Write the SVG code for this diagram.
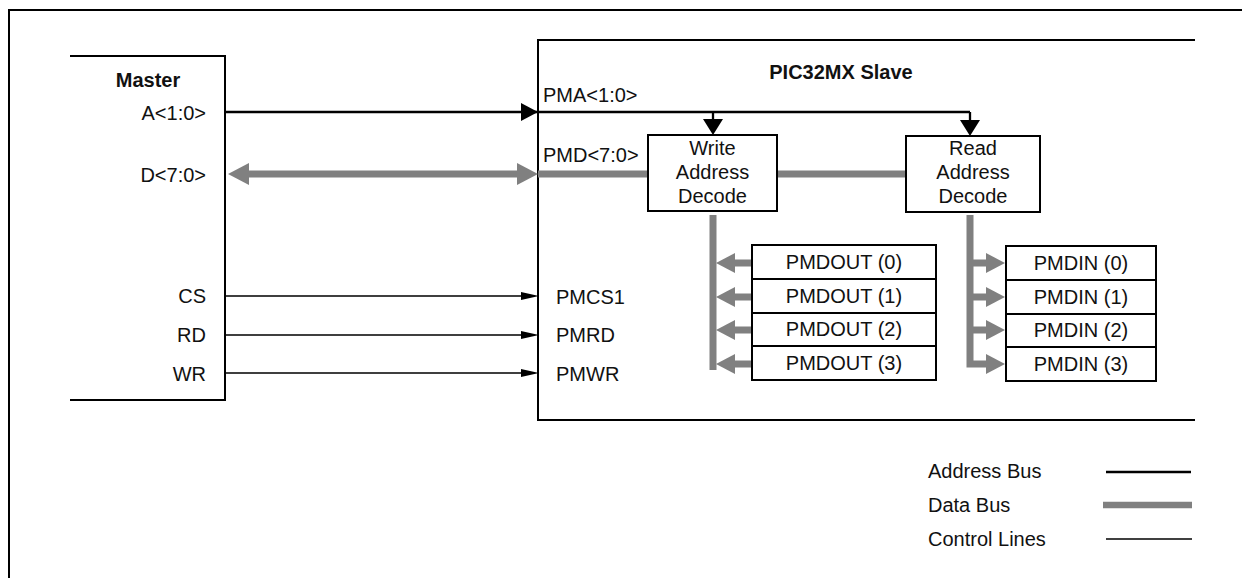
<svg xmlns="http://www.w3.org/2000/svg" width="1242" height="578" viewBox="0 0 1242 578">
<style>
text{font-family:"Liberation Sans",Arial,sans-serif;font-size:20px;fill:#111}
.b{font-weight:bold}
.m{text-anchor:middle}
.e{text-anchor:end}
.box{fill:#fff;stroke:#000;stroke-width:2}
.frame{fill:none;stroke:#000;stroke-width:2}
.addr{stroke:#000;stroke-width:2.3;fill:none}
.ctl{stroke:#000;stroke-width:1.6;fill:none}
.data{stroke:#808080;stroke-width:7;fill:none}
.gh{fill:#808080}
.bh{fill:#000}
</style>
<rect width="1242" height="578" fill="#fff"/>
<g id="frame">
<path class="frame" d="M9,578 V10 H1242"/>
</g>
<g id="master">
<path class="frame" d="M70,56 H225 V400 H70"/>
<text class="b m" x="148" y="87">Master</text>
<text class="e" x="206" y="120">A&lt;1:0&gt;</text>
<text class="e" x="206" y="182">D&lt;7:0&gt;</text>
<text class="e" x="206" y="303">CS</text>
<text class="e" x="206" y="342">RD</text>
<text class="e" x="206" y="381">WR</text>
</g>
<g id="slave">
<path class="frame" d="M1195,40 H538 V420 H1195"/>
<text class="b m" x="841" y="79">PIC32MX Slave</text>
<text x="543" y="102">PMA&lt;1:0&gt;</text>
<text x="543" y="162">PMD&lt;7:0&gt;</text>
<text x="556" y="304">PMCS1</text>
<text x="556" y="342">PMRD</text>
<text x="556" y="381">PMWR</text>
</g>
<g id="connectors">
<path class="addr" d="M225,112 H970 M713,112 V122 M970,112 V122"/>
<polygon class="bh" points="538,112 521,103 521,121"/>
<polygon class="bh" points="713,135 703,119 723,119"/>
<polygon class="bh" points="970,136 960,120 980,120"/>
<path class="data" d="M246,174 H520 M538,174 H648 M777,174 H906"/>
<polygon class="gh" points="228,174 249,163 249,185"/>
<polygon class="gh" points="538,174 517,163 517,185"/>
<path class="data" d="M713,215 V370"/>
<path class="data" d="M970,215 V364 H988"/>
<path class="data" d="M733,263 H752 M733,297 H752 M733,330 H752 M733,364 H752"/>
<polygon class="gh" points="716,263 735,253 735,273"/>
<polygon class="gh" points="716,297 735,287 735,307"/>
<polygon class="gh" points="716,330 735,320 735,340"/>
<polygon class="gh" points="716,364 735,354 735,374"/>
<path class="data" d="M970,263 H988 M970,297 H988 M970,330 H988"/>
<polygon class="gh" points="1005,263 986,253 986,273"/>
<polygon class="gh" points="1005,297 986,287 986,307"/>
<polygon class="gh" points="1005,330 986,320 986,340"/>
<polygon class="gh" points="1005,364 986,354 986,374"/>
<path class="ctl" d="M225,296 H525 M225,335 H525 M225,373 H525"/>
<polygon class="bh" points="539,296 521,292 521,300"/>
<polygon class="bh" points="539,335 521,331 521,339"/>
<polygon class="bh" points="539,373 521,369 521,377"/>
</g>
<g id="write-decode">
<rect class="box" x="648" y="135" width="129" height="76"/>
<text class="m" x="712.5" y="155">Write</text>
<text class="m" x="712.5" y="179">Address</text>
<text class="m" x="712.5" y="203">Decode</text>
</g>
<g id="read-decode">
<rect class="box" x="906" y="136" width="134" height="76"/>
<text class="m" x="973" y="155">Read</text>
<text class="m" x="973" y="179">Address</text>
<text class="m" x="973" y="203">Decode</text>
</g>
<g id="pmdout">
<rect class="box" x="752" y="245" width="184" height="34"/>
<rect class="box" x="752" y="279" width="184" height="34"/>
<rect class="box" x="752" y="313" width="184" height="33"/>
<rect class="box" x="752" y="346" width="184" height="34"/>
<text class="m" x="844" y="269">PMDOUT (0)</text>
<text class="m" x="844" y="303">PMDOUT (1)</text>
<text class="m" x="844" y="336">PMDOUT (2)</text>
<text class="m" x="844" y="370">PMDOUT (3)</text>
</g>
<g id="pmdin">
<rect class="box" x="1006" y="246" width="150" height="34"/>
<rect class="box" x="1006" y="280" width="150" height="34"/>
<rect class="box" x="1006" y="314" width="150" height="33"/>
<rect class="box" x="1006" y="347" width="150" height="34"/>
<text class="m" x="1081" y="270">PMDIN (0)</text>
<text class="m" x="1081" y="304">PMDIN (1)</text>
<text class="m" x="1081" y="337">PMDIN (2)</text>
<text class="m" x="1081" y="371">PMDIN (3)</text>
</g>
<g id="legend">
<text x="928" y="478">Address Bus</text>
<text x="928" y="512">Data Bus</text>
<text x="928" y="546">Control Lines</text>
<path d="M1106,472 H1191" stroke="#000" stroke-width="2.3"/>
<path d="M1103,505 H1192" stroke="#808080" stroke-width="6.5"/>
<path d="M1106,539 H1192" stroke="#000" stroke-width="1.6"/>
</g>
</svg>
